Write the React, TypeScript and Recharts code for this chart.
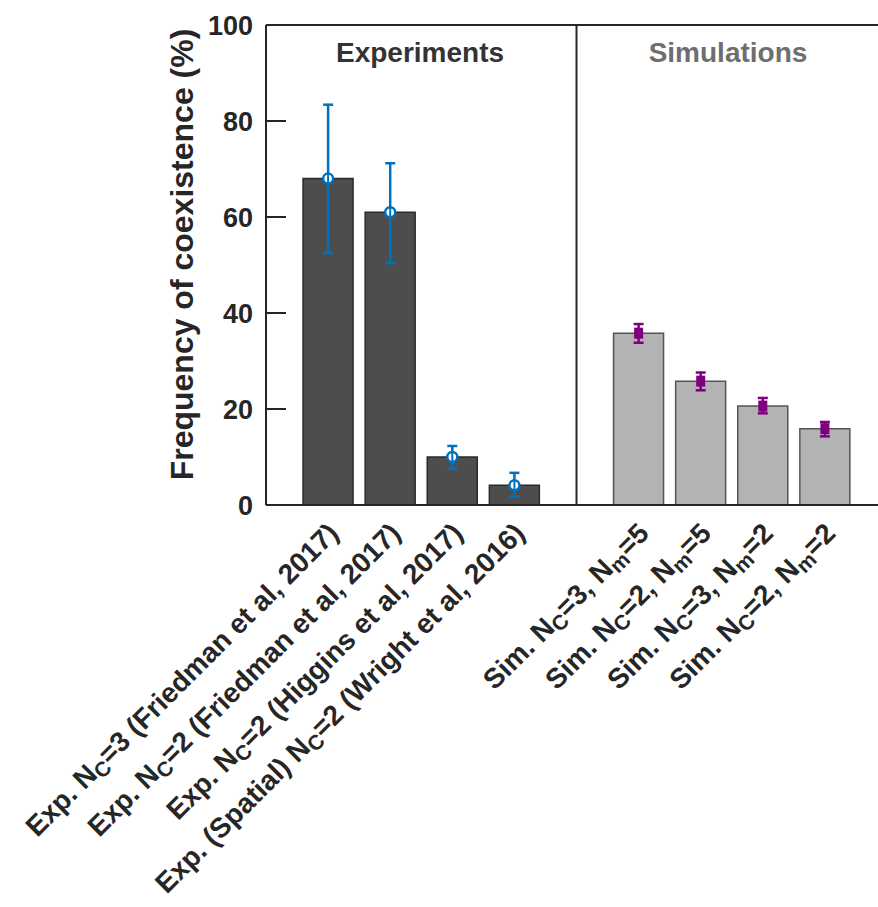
import {
  ComposedChart,
  Bar,
  Cell,
  Scatter,
  ErrorBar,
  XAxis,
  YAxis,
  ReferenceLine,
} from 'recharts';

// category labels, "_X" marks a one-letter subscript
const CATEGORIES = [
  'Exp. N_C=3 (Friedman et al, 2017)',
  'Exp. N_C=2 (Friedman et al, 2017)',
  'Exp. N_C=2 (Higgins et al, 2017)',
  'Exp. (Spatial) N_C=2 (Wright et al, 2016)',
  'Sim. N_C=3, N_m=5',
  'Sim. N_C=2, N_m=5',
  'Sim. N_C=3, N_m=2',
  'Sim. N_C=2, N_m=2',
];
const POSITIONS = [1, 2, 3, 4, 6, 7, 8, 9];
const GROUPS = ['exp', 'exp', 'exp', 'exp', 'sim', 'sim', 'sim', 'sim'];
const VALUES = [68, 61, 10, 4.1, 35.8, 25.8, 20.6, 15.9];
const ERR_LOW = [52.5, 50.4, 7.6, 1.8, 33.8, 23.9, 19.1, 14.3];
const ERR_HIGH = [83.4, 71.2, 12.3, 6.7, 37.7, 27.6, 22.3, 17.3];
const Y_TICKS = [0, 20, 40, 60, 80, 100];

const FONT = '"Liberation Sans", Arial, Helvetica, sans-serif';
const INK = '#262626';
const BLUE = '#0072BD';
const PURPLE = '#7E007E';
const TICK_LEN = 20;

const tableData = POSITIONS.map((pos, i) => ({
  pos,
  label: CATEGORIES[i],
  group: GROUPS[i],
  value: VALUES[i],
  err: [VALUES[i] - ERR_LOW[i], ERR_HIGH[i] - VALUES[i]],
}));
const expData = tableData.filter((d) => d.group === 'exp');
const simData = tableData.filter((d) => d.group === 'sim');

function splitLabel(label: string) {
  const parts: { text: string; sub: boolean }[] = [];
  const re = /_(.)/g;
  let last = 0;
  let m;
  while ((m = re.exec(label)) !== null) {
    parts.push({ text: label.slice(last, m.index), sub: false });
    parts.push({ text: m[1], sub: true });
    last = m.index + 2;
  }
  parts.push({ text: label.slice(last), sub: false });
  return parts;
}

function XTick(props: any) {
  const { x, y, payload } = props;
  const idx = POSITIONS.indexOf(payload.value);
  if (idx < 0) return null;
  const parts = splitLabel(CATEGORIES[idx]);
  return (
    <text
      transform={`translate(${x + 12},${y + 30}) rotate(-45)`}
      textAnchor="end"
      fontSize={28}
      fontWeight="bold"
      fontFamily={FONT}
      fill={INK}
    >
      {parts.map((p, i) => (
        <tspan key={i} fontSize={p.sub ? 21 : 28} dy={p.sub ? 5 : i > 0 ? -5 : 0}>
          {p.text}
        </tspan>
      ))}
    </text>
  );
}

// left tick: label plus an inward tick mark
function LeftTick(props: any) {
  const { x, y, payload } = props;
  const axisX = x + 13;
  return (
    <g>
      <text
        x={x}
        y={y}
        dy="0.355em"
        textAnchor="end"
        fontSize={27}
        fontWeight="bold"
        fontFamily={FONT}
        fill={INK}
      >
        {payload.value}
      </text>
      <line x1={axisX} x2={axisX + TICK_LEN} y1={y} y2={y} stroke={INK} strokeWidth={2} />
    </g>
  );
}

function RightTick(props: any) {
  const { x, y } = props;
  return <line x1={x - TICK_LEN} x2={x} y1={y} y2={y} stroke={INK} strokeWidth={2} />;
}

function ExpMarker(props: any) {
  const { cx, cy } = props;
  return (
    <g>
      <circle cx={cx} cy={cy} r={5} fill="#ffffff" stroke={BLUE} strokeWidth={2.5} />
      <line x1={cx} x2={cx} y1={cy - 5} y2={cy + 5} stroke={BLUE} strokeWidth={2} />
    </g>
  );
}

function SimMarker(props: any) {
  const { cx, cy } = props;
  return <rect x={cx - 4.5} y={cy - 5.5} width={9} height={11} fill={PURPLE} />;
}

export default function App() {
  return (
    <div style={{ position: 'relative', width: 878, height: 907, overflow: 'hidden', background: '#fff' }}>
      <style>{'body{margin:0}'}</style>
      <ComposedChart
        width={900}
        height={907}
        data={tableData}
        margin={{ top: 25, right: 12, left: 0, bottom: 0 }}
      >
        <XAxis
          dataKey="pos"
          type="number"
          domain={[0, 10]}
          ticks={POSITIONS}
          interval={0}
          height={402}
          tickLine={false}
          tickSize={0}
          tickMargin={0}
          axisLine={{ stroke: INK, strokeWidth: 2 }}
          tick={(p: any) => <XTick {...p} />}
        />
        <YAxis
          yAxisId="left"
          domain={[0, 100]}
          ticks={Y_TICKS}
          interval={0}
          width={266}
          tickLine={false}
          tickSize={0}
          tickMargin={13}
          axisLine={{ stroke: INK, strokeWidth: 2 }}
          tick={(p: any) => <LeftTick {...p} />}
        />
        <YAxis
          yAxisId="right"
          orientation="right"
          domain={[0, 100]}
          ticks={Y_TICKS}
          interval={0}
          width={1}
          tickLine={false}
          tickSize={0}
          tickMargin={0}
          axisLine={{ stroke: INK, strokeWidth: 2 }}
          tick={(p: any) => <RightTick {...p} />}
        />
        <ReferenceLine yAxisId="left" y={100} stroke={INK} strokeWidth={2} />
        <ReferenceLine yAxisId="left" x={5} stroke={INK} strokeWidth={2} />
        <Bar yAxisId="left" dataKey="value" barSize={50} isAnimationActive={false}>
          {tableData.map((d, i) => (
            <Cell
              key={`cell-${i}`}
              fill={d.group === 'exp' ? '#4d4d4d' : '#b3b3b3'}
              stroke={d.group === 'exp' ? '#2a2a2a' : '#555555'}
              strokeWidth={1.5}
            />
          ))}
        </Bar>
        <Scatter
          yAxisId="left"
          data={expData}
          dataKey="value"
          shape={<ExpMarker />}
          isAnimationActive={false}
        >
          <ErrorBar dataKey="err" direction="y" width={5} stroke={BLUE} strokeWidth={2.5} />
        </Scatter>
        <Scatter
          yAxisId="left"
          data={simData}
          dataKey="value"
          shape={<SimMarker />}
          isAnimationActive={false}
        >
          <ErrorBar dataKey="err" direction="y" width={5} stroke={PURPLE} strokeWidth={2.5} />
        </Scatter>
      </ComposedChart>
      <svg
        width={878}
        height={907}
        style={{ position: 'absolute', left: 0, top: 0, pointerEvents: 'none' }}
      >
        <text x={420} y={62} textAnchor="middle" fontSize={28} fontWeight="bold" fontFamily={FONT} fill="#333333">
          Experiments
        </text>
        <text x={728} y={62} textAnchor="middle" fontSize={28} fontWeight="bold" fontFamily={FONT} fill="#6e6e6e">
          Simulations
        </text>
        <text
          transform="translate(193,254.5) rotate(-90)"
          textAnchor="middle"
          fontSize={32}
          fontWeight="bold"
          fontFamily={FONT}
          fill={INK}
        >
          Frequency of coexistence (%)
        </text>
      </svg>
    </div>
  );
}
